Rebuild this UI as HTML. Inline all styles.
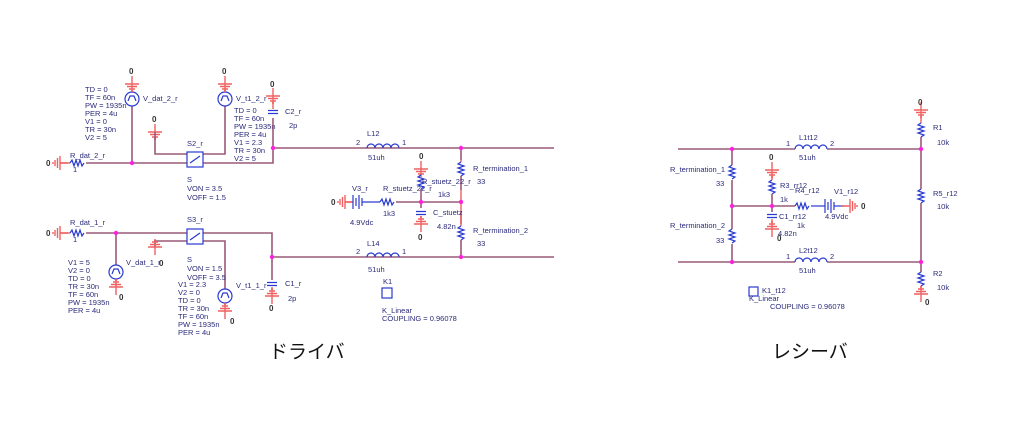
<!DOCTYPE html>
<html><head><meta charset="utf-8"><style>
html,body{margin:0;padding:0;background:#fff;}
svg{display:block}
text{font-family:"Liberation Sans",sans-serif;font-size:7.5px;fill:#2a2a7a}
.g{fill:#333;font-size:8px;font-weight:bold}
.w{stroke:#9a5a78;stroke-width:1.6;fill:none}
.r{stroke:#f06060;stroke-width:1.4;fill:none}
.b{stroke:#2a3ad0;stroke-width:1.2;fill:none}
.j{fill:#ff20e0}
.jp{font-family:"Liberation Sans","Noto Sans CJK JP",sans-serif;font-size:19px;fill:#111}
</style></head><body>
<svg width="1020" height="428" viewBox="0 0 1020 428" xmlns="http://www.w3.org/2000/svg">
<defs>
<g id="gd"><path class="r" d="M0,8V0M-7,0H7M-5,-2.5H5M-3,-5H3M-1,-7H1"/></g>
<g id="gu"><path class="r" d="M0,-8V0M-7,0H7M-5,2.5H5M-3,5H3M-1,7H1"/></g>
<g id="gl"><path class="r" d="M8,0H0M0,-7V7M-2.5,-5V5M-5,-3V3M-7,-1V1"/></g>
<g id="gr"><path class="r" d="M-8,0H0M0,-7V7M2.5,-5V5M5,-3V3M7,-1V1"/></g>
<g id="rh"><path class="b" d="M0,0l2,-3l2,6l2,-6l2,6l2,-6l2,6l2,-3"/></g>
<g id="rv"><path class="b" d="M0,0l-3,2l6,2l-6,2l6,2l-6,2l6,2l-3,2"/></g>
<g id="ind"><path class="b" d="M0,0a4,4 0 0 1 8,0a4,4 0 0 1 8,0a4,4 0 0 1 8,0a4,4 0 0 1 8,0"/></g>
<g id="cv"><path class="b" d="M-5,-1.5H5M-5,1.5H5"/></g>
<g id="src"><circle class="b" r="7"/><path class="b" d="M-4,2L-2,-3H2L4,2"/></g>
<g id="sw"><rect class="b" x="0" y="0" width="16" height="15"/><path class="b" d="M3,11L13,4"/></g>
<g id="bat"><path class="b" d="M0,-7V7M3,-4V4M6,-7V7M9,-4V4"/></g>
</defs>

<!-- ============ DRIVER ============ -->
<!-- top line -->
<use href="#gl" x="60" y="163"/>
<path class="r" d="M60,163H70"/>
<use href="#rh" x="70" y="163"/>
<path class="w" d="M86,163H187M203,163H273V148H554"/>
<text x="70" y="158">R_dat_2_r</text><text x="73" y="172">1</text>
<text class="g" x="46" y="166">0</text>
<!-- V_dat_2_r -->
<path class="w" d="M132,163V106"/><use href="#src" x="132" y="99"/>
<path class="r" d="M132,92V84"/><use href="#gu" x="132" y="84"/>
<text class="g" x="129" y="74">0</text>
<text x="143" y="101">V_dat_2_r</text>
<text x="85" y="92">TD = 0</text><text x="85" y="100">TF = 60n</text><text x="85" y="108">PW = 1935n</text><text x="85" y="116">PER = 4u</text><text x="85" y="124">V1 = 0</text><text x="85" y="132">TR = 30n</text><text x="85" y="140">V2 = 5</text>
<!-- switch S2 -->
<use href="#gu" x="155" y="132"/><text class="g" x="152" y="122">0</text>
<path class="w" d="M155,132V154H187M203,154H225V106"/>
<use href="#sw" x="187" y="152"/>
<text x="187" y="146">S2_r</text>
<text x="187" y="182">S</text><text x="187" y="191">VON = 3.5</text><text x="187" y="200">VOFF = 1.5</text>
<use href="#src" x="225" y="99"/><path class="r" d="M225,92V84"/><use href="#gu" x="225" y="84"/>
<text class="g" x="222" y="74">0</text><text x="236" y="101">V_t1_2_r</text>
<text x="234" y="113">TD = 0</text><text x="234" y="121">TF = 60n</text><text x="234" y="129">PW = 1935n</text><text x="234" y="137">PER = 4u</text><text x="234" y="145">V1 = 2.3</text><text x="234" y="153">TR = 30n</text><text x="234" y="161">V2 = 5</text>
<!-- C2 -->
<path class="w" d="M273,148V118"/><use href="#cv" x="273" y="112"/><path class="r" d="M273,109V96"/><use href="#gu" x="273" y="96"/>
<text class="g" x="270" y="87">0</text><text x="285" y="114">C2_r</text><text x="289" y="128">2p</text>
<!-- L12 -->
<use href="#ind" x="367" y="148"/><text x="356" y="145">2</text><text x="402" y="145">1</text>
<text x="367" y="136">L12</text><text x="368" y="160">51uh</text>

<!-- bottom line -->
<use href="#gl" x="60" y="233"/>
<path class="r" d="M60,233H70"/>
<use href="#rh" x="70" y="233"/>
<path class="w" d="M86,233H187M203,233H272V257H554"/>
<text x="70" y="225">R_dat_1_r</text><text x="73" y="242">1</text>
<text class="g" x="46" y="236">0</text>
<path class="w" d="M116,233V265"/><use href="#src" x="116" y="272"/><path class="r" d="M116,279V287"/><use href="#gd" x="116" y="287"/>
<text class="g" x="119" y="300">0</text><text x="126" y="265">V_dat_1_r</text>
<text x="68" y="265">V1 = 5</text><text x="68" y="273">V2 = 0</text><text x="68" y="281">TD = 0</text><text x="68" y="289">TR = 30n</text><text x="68" y="297">TF = 60n</text><text x="68" y="305">PW = 1935n</text><text x="68" y="313">PER = 4u</text>
<path class="w" d="M187,241H155V247M203,241H225V289"/>
<use href="#gd" x="155" y="247"/><text class="g" x="159" y="266">0</text>
<use href="#sw" x="187" y="229"/><text x="187" y="222">S3_r</text>
<text x="187" y="262">S</text><text x="187" y="271">VON = 1.5</text><text x="187" y="280">VOFF = 3.5</text>
<use href="#src" x="225" y="296"/><path class="r" d="M225,303V311"/><use href="#gd" x="225" y="311"/>
<text class="g" x="230" y="324">0</text><text x="236" y="288">V_t1_1_r</text>
<text x="178" y="287">V1 = 2.3</text><text x="178" y="295">V2 = 0</text><text x="178" y="303">TD = 0</text><text x="178" y="311">TR = 30n</text><text x="178" y="319">TF = 60n</text><text x="178" y="327">PW = 1935n</text><text x="178" y="335">PER = 4u</text>
<!-- C1 -->
<path class="w" d="M272,257V280"/><use href="#cv" x="272" y="284"/><path class="r" d="M272,287V296"/><use href="#gd" x="272" y="296"/>
<text class="g" x="269" y="311">0</text><text x="285" y="286">C1_r</text><text x="288" y="301">2p</text>
<use href="#ind" x="367" y="257"/><text x="356" y="254">2</text><text x="402" y="254">1</text>
<text x="367" y="246">L14</text><text x="368" y="272">51uh</text>
<!-- K1 -->
<rect class="b" x="382" y="288" width="10" height="10"/><text x="383" y="284">K1</text>
<text x="382" y="313">K_Linear</text><text x="382" y="321">COUPLING = 0.96078</text>
<!-- terminations -->
<path class="w" d="M461,148V160M461,176V190M461,212V224M461,240V257M421,202H461"/>
<path class="r" d="M461,160V162M461,190V202M461,202V226"/>
<use href="#rv" x="461" y="162"/><use href="#rv" x="461" y="226"/>
<text x="473" y="171">R_termination_1</text><text x="477" y="184">33</text>
<text x="473" y="233">R_termination_2</text><text x="477" y="246">33</text>
<!-- stuetz -->
<use href="#gl" x="345" y="202"/><text class="g" x="331" y="205">0</text>
<path class="r" d="M345,202H353"/><use href="#bat" x="353" y="202"/><path class="b" d="M362,202H380"/>
<text x="352" y="191">V3_r</text><text x="350" y="225">4.9Vdc</text>
<use href="#rh" x="380" y="202"/><path class="w" d="M396,202H421"/>
<text x="383" y="191">R_stuetz_22_r</text><text x="383" y="216">1k3</text>
<use href="#gu" x="421" y="169"/><text class="g" x="419" y="159">0</text>
<path class="r" d="M421,169V175"/><use href="#rv" x="421" y="175"/><path class="w" d="M421,189V208"/>
<text x="422" y="184">R_stuetz_22_r</text><text x="438" y="197">1k3</text>
<use href="#cv" x="421" y="213"/><path class="r" d="M421,216V224"/><use href="#gd" x="421" y="224"/>
<text class="g" x="418" y="240">0</text><text x="433" y="215">C_stuetz</text><text x="437" y="229">4.82n</text>
<circle class="j" cx="132" cy="163" r="2.2"/><circle class="j" cx="273" cy="148" r="2.2"/><circle class="j" cx="461" cy="148" r="2.2"/>
<circle class="j" cx="461" cy="202" r="2.2"/><circle class="j" cx="421" cy="202" r="2.2"/><circle class="j" cx="461" cy="257" r="2.2"/>
<circle class="j" cx="116" cy="233" r="2.2"/><circle class="j" cx="272" cy="257" r="2.2"/>

<!-- ============ RECEIVER ============ -->
<path class="w" d="M678,149H795M827,149H921M678,262H795M827,262H921"/>
<use href="#ind" x="795" y="149"/><text x="786" y="146">1</text><text x="830" y="146">2</text>
<text x="799" y="140">L1t12</text><text x="799" y="160">51uh</text>
<use href="#ind" x="795" y="262"/><text x="786" y="259">1</text><text x="830" y="259">2</text>
<text x="799" y="253">L2t12</text><text x="799" y="273">51uh</text>
<path class="w" d="M732,149V165M732,180V229M732,244V262M732,206H772"/>
<use href="#rv" x="732" y="165"/><use href="#rv" x="732" y="229"/>
<text x="670" y="172">R_termination_1</text><text x="716" y="186">33</text>
<text x="670" y="228">R_termination_2</text><text x="716" y="243">33</text>
<use href="#gu" x="772" y="170"/><text class="g" x="769" y="160">0</text>
<path class="r" d="M772,170V180"/><use href="#rv" x="772" y="180"/><path class="w" d="M772,194V212M772,206H795"/>
<text x="780" y="188">R3_rr12</text><text x="780" y="202">1k</text>
<use href="#rh" x="795" y="206"/><path class="b" d="M811,206H825"/><use href="#bat" x="825" y="206"/><path class="b" d="M834,206H845"/>
<text x="795" y="193">R4_r12</text><text x="797" y="228">1k</text>
<use href="#gr" x="850" y="206"/><text class="g" x="861" y="209">0</text>
<text x="834" y="194">V1_r12</text><text x="825" y="219">4.9Vdc</text>
<use href="#cv" x="772" y="216"/><path class="r" d="M772,219V229"/><use href="#gd" x="772" y="229"/>
<text class="g" x="777" y="241">0</text><text x="779" y="219">C1_rr12</text><text x="778" y="236">4.82n</text>
<use href="#gu" x="921" y="110"/><text class="g" x="918" y="105">0</text>
<path class="r" d="M921,110V123"/><use href="#rv" x="921" y="123"/><path class="w" d="M921,137V189M921,203V272"/>
<text x="933" y="130">R1</text><text x="937" y="145">10k</text>
<use href="#rv" x="921" y="189"/><text x="933" y="196">R5_r12</text><text x="937" y="209">10k</text>
<use href="#rv" x="921" y="272"/><path class="r" d="M921,286V294"/><use href="#gd" x="921" y="294"/>
<text x="933" y="276">R2</text><text x="937" y="290">10k</text><text class="g" x="925" y="305">0</text>
<rect class="b" x="749" y="287" width="9" height="9"/><text x="762" y="293">K1_t12</text>
<text x="749" y="301">K_Linear</text><text x="770" y="309">COUPLING = 0.96078</text>
<circle class="j" cx="732" cy="149" r="2.2"/><circle class="j" cx="732" cy="206" r="2.2"/><circle class="j" cx="732" cy="262" r="2.2"/>
<circle class="j" cx="772" cy="206" r="2.2"/><circle class="j" cx="921" cy="149" r="2.2"/><circle class="j" cx="921" cy="262" r="2.2"/>

<text class="jp" x="269" y="358">ドライバ</text>
<text class="jp" x="772" y="358">レシーバ</text>
</svg>
</body></html>
